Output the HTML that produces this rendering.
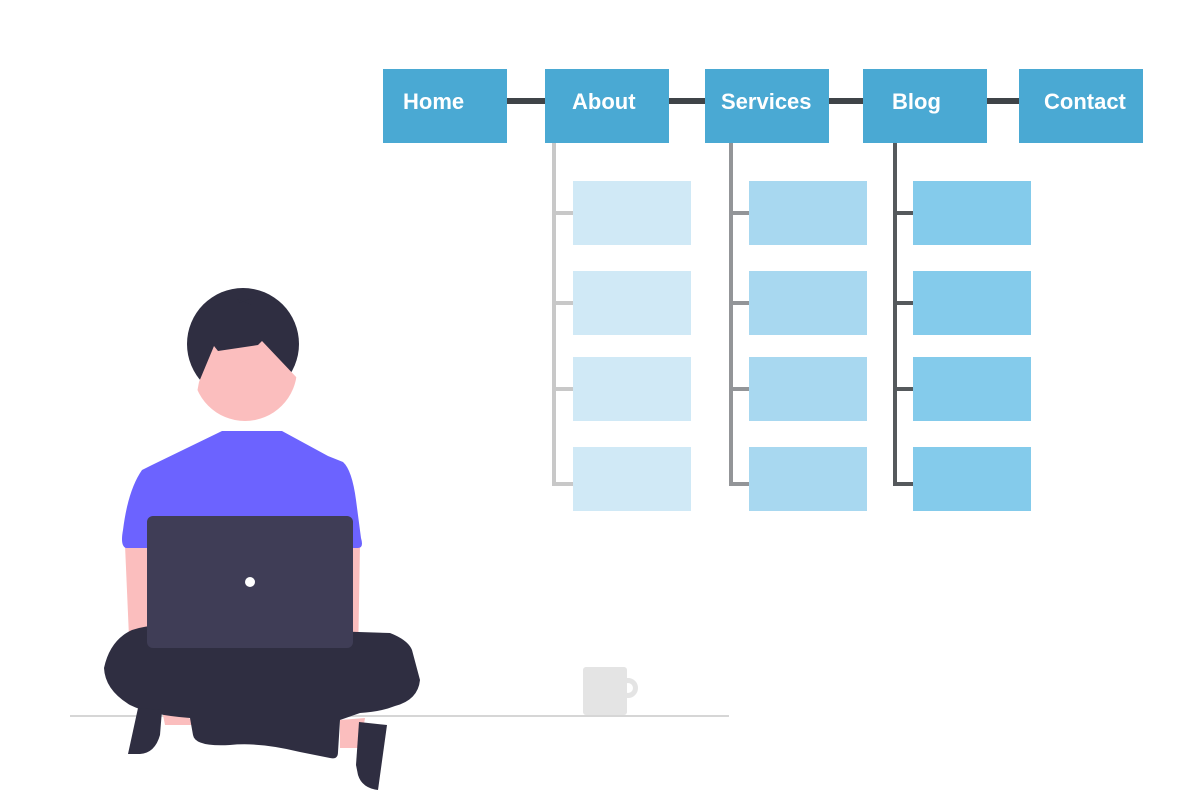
<!DOCTYPE html>
<html><head><meta charset="utf-8"><style>
html,body{margin:0;padding:0;background:#fff;width:1200px;height:800px;overflow:hidden}
svg{display:block}
text{font-family:"Liberation Sans",sans-serif;font-weight:bold;font-size:22px;fill:#fff}
</style></head><body>
<svg width="1200" height="800" viewBox="0 0 1200 800">
<g fill="#3f4448">
<rect x="507" y="98" width="38" height="6"/>
<rect x="669" y="98" width="36" height="6"/>
<rect x="829" y="98" width="34" height="6"/>
<rect x="987" y="98" width="32" height="6"/>
</g>
<g fill="none" stroke-width="4">
<path d="M554 143 V484 H573 M554 213 H573 M554 303 H573 M554 389 H573" stroke="#c8c8c8"/>
<path d="M731 143 V484 H749 M731 213 H749 M731 303 H749 M731 389 H749" stroke="#939598"/>
<path d="M895 143 V484 H913 M895 213 H913 M895 303 H913 M895 389 H913" stroke="#55595c"/>
</g>
<g fill="#d0e9f6">
<rect x="573" y="181" width="118" height="64"/><rect x="573" y="271" width="118" height="64"/><rect x="573" y="357" width="118" height="64"/><rect x="573" y="447" width="118" height="64"/>
</g>
<g fill="#a8d8f0">
<rect x="749" y="181" width="118" height="64"/><rect x="749" y="271" width="118" height="64"/><rect x="749" y="357" width="118" height="64"/><rect x="749" y="447" width="118" height="64"/>
</g>
<g fill="#84cbeb">
<rect x="913" y="181" width="118" height="64"/><rect x="913" y="271" width="118" height="64"/><rect x="913" y="357" width="118" height="64"/><rect x="913" y="447" width="118" height="64"/>
</g>
<g fill="#4aa9d3">
<rect x="383" y="69" width="124" height="74"/>
<rect x="545" y="69" width="124" height="74"/>
<rect x="705" y="69" width="124" height="74"/>
<rect x="863" y="69" width="124" height="74"/>
<rect x="1019" y="69" width="124" height="74"/>
</g>
<text x="403" y="109">Home</text>
<text x="572" y="109">About</text>
<text x="721" y="109">Services</text>
<text x="892" y="109">Blog</text>
<text x="1044" y="109">Contact</text>
<rect x="70" y="715" width="659" height="2" fill="#d6d6d6"/>
<rect x="583" y="667" width="44" height="48" rx="3" fill="#e4e4e4"/>
<circle cx="628" cy="688" r="7.5" fill="none" stroke="#e4e4e4" stroke-width="5"/>
<path d="M125 545 L148 545 L150 660 L130 660 Z M335 545 L360 545 L358 660 L335 660 Z" fill="#fbbebe"/>
<path d="M160 700 L200 725 L165 725 Z M340 720 L365 718 L360 748 L340 748 Z" fill="#fbbebe"/>
<path d="M222 431 L282 431 L328 456 L343 462 Q352 470 356 500 L361 538 Q364 548 358 548 L126 548 Q120 546 123 530 Q128 490 142 470 L152 465 Z" fill="#6c63ff"/>
<path d="M104 668 Q110 640 132 630 Q150 624 170 626 L390 633 Q408 640 412 650 L420 680 Q418 700 395 706 Q380 712 360 713 L340 720 L338 752 Q338 760 330 758 L300 752 Q260 742 230 745 Q195 747 193 735 L190 718 Q150 715 130 705 Q105 690 104 668 Z" fill="#2f2e41"/>
<path d="M138 708 L162 710 L160 735 Q155 753 140 754 L128 754 Z" fill="#2f2e41"/>
<path d="M359 722 L387 725 L378 790 Q362 788 358 775 L356 765 Z" fill="#2f2e41"/>
<rect x="147" y="516" width="206" height="132" rx="6" fill="#3f3d56"/>
<circle cx="250" cy="582" r="5" fill="#fff"/>
<circle cx="243" cy="344" r="56" fill="#2f2e41"/>
<path d="M237 299 L240 303 L252 298 L252 305" fill="#2f2e41"/>
<clipPath id="fc"><path d="M190 430 L199 382 L214 346 L218 351 L258 345 L262 341 L298 379 L305 430 Z"/></clipPath>
<circle cx="245" cy="369" r="52" fill="#fbbebe" clip-path="url(#fc)"/>
</svg>
</body></html>
